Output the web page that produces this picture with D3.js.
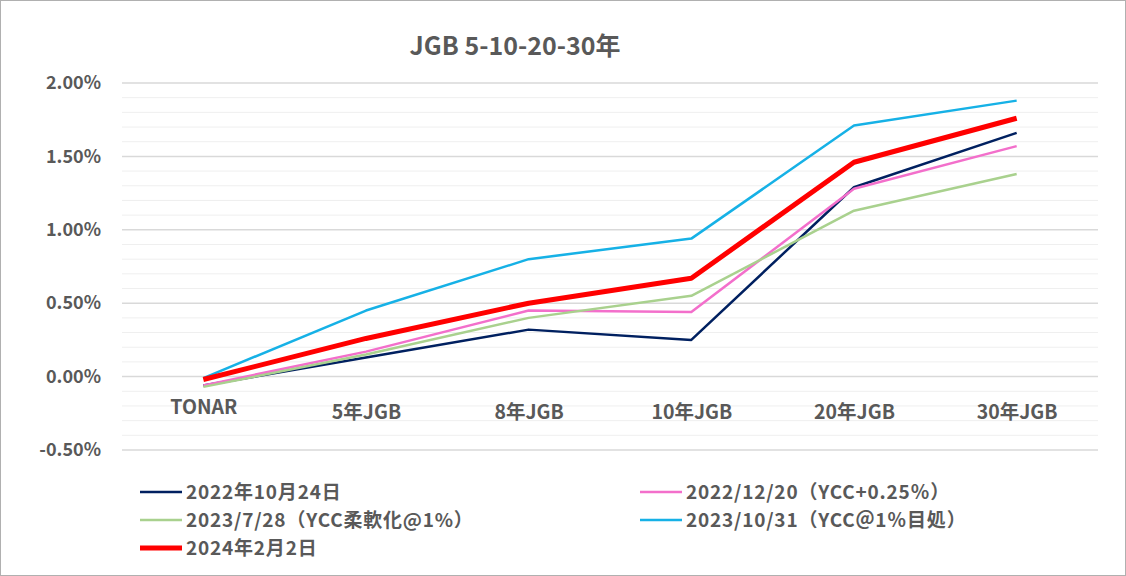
<!DOCTYPE html>
<html><head><meta charset="utf-8">
<script src="https://cdn.jsdelivr.net/npm/d3@7"></script>
<style>
html,body{margin:0;padding:0;background:#fff;}
svg{display:block;font-family:"Noto Sans CJK JP","Noto Sans",sans-serif;}
</style></head>
<body><svg id="c" width="1126" height="576"></svg>
<script>
const title = "JGB 5-10-20-30年";
const categories = ["TONAR","5年JGB","8年JGB","10年JGB","20年JGB","30年JGB"];
const yTicks = [-0.5, 0, 0.5, 1.0, 1.5, 2.0];
const seriesNames = ["2022年10月24日","2022/12/20（YCC+0.25％）","2023/7/28（YCC柔軟化@1%）","2023/10/31（YCC＠1％目処）","2024年2月2日"];
const s20221024 = [-0.06, 0.13, 0.32, 0.25, 1.29, 1.66];
const s20221220 = [-0.06, 0.17, 0.45, 0.44, 1.28, 1.57];
const s20230728 = [-0.07, 0.15, 0.40, 0.55, 1.13, 1.38];
const s20231031 = [-0.01, 0.45, 0.80, 0.94, 1.71, 1.88];
const s20240202 = [-0.02, 0.26, 0.50, 0.67, 1.46, 1.76];
const seriesValues = [s20221024, s20221220, s20230728, s20231031, s20240202];
const colors = ["#002060","#F36FCB","#A9D18E","#16B1E6","#FF0000"];
const widths = [2.5, 2.5, 2.5, 2.5, 5];

const FONT = '"Noto Sans CJK JP","Noto Sans",sans-serif';
const svg = d3.select("#c");
svg.append("rect").attr("x",0.5).attr("y",0.5).attr("width",1125).attr("height",575)
  .attr("fill","#fff").attr("stroke","#b0b0b0");

const x = d3.scalePoint().domain(categories).range([122,1098]).padding(0.5);
const y = d3.scaleLinear().domain([-0.5,2.0]).range([450,83]);

// minor gridlines
const minor = d3.range(-5,21).map(i=>i/10).filter(v=>Math.abs(v*2-Math.round(v*2))>1e-6);
svg.append("g").selectAll("line").data(minor).join("line")
  .attr("x1",122).attr("x2",1098).attr("y1",d=>y(d)).attr("y2",d=>y(d))
  .attr("stroke","#efefef").attr("stroke-width",1);
svg.append("g").selectAll("line").data(yTicks).join("line")
  .attr("x1",122).attr("x2",1098).attr("y1",d=>y(d)).attr("y2",d=>y(d))
  .attr("stroke","#d9d9d9").attr("stroke-width",1.5);

// y axis labels
const yAxis = d3.axisLeft(y).tickValues(yTicks).tickSize(0).tickPadding(0)
  .tickFormat(d=>(d<0?"-":"")+Math.abs(d).toFixed(2)+"%");
const ga = svg.append("g").attr("transform","translate(101,0)").call(yAxis);
ga.select(".domain").remove();
ga.selectAll("text").attr("fill","#595959").attr("font-size",18).attr("font-weight","bold")
  .attr("font-family",FONT);

// category labels
const xAxis = d3.axisBottom(x).tickSize(0).tickPadding(0);
const gx = svg.append("g").call(xAxis);
gx.select(".domain").remove();
gx.selectAll("text").attr("fill","#595959").attr("font-size",19.5).attr("font-weight","bold")
  .attr("font-family",FONT)
  .attr("dy",null)
  .attr("y",(d)=> d==="TONAR" ? 414 : 419);

// lines
const line = d3.line().x((d,i)=>x(categories[i])).y(d=>y(d));
svg.append("g").selectAll("path").data(seriesValues).join("path")
  .attr("d",line).attr("fill","none")
  .attr("stroke",(d,i)=>colors[i]).attr("stroke-width",(d,i)=>widths[i])
  .attr("stroke-linejoin","round");

// title
svg.append("text").attr("x",515).attr("y",55).attr("text-anchor","middle")
  .attr("fill","#595959").attr("font-size",25).attr("font-weight","bold").text(title);

// legend
const legPos = [[140,492],[640,492],[140,520],[640,520],[140,548]];
const lg = svg.append("g").selectAll("g").data(seriesNames).join("g")
  .attr("transform",(d,i)=>`translate(${legPos[i][0]},${legPos[i][1]})`);
lg.append("line").attr("x1",0).attr("x2",42).attr("y1",0).attr("y2",0)
  .attr("stroke",(d,i)=>colors[i]).attr("stroke-width",(d,i)=>widths[i]);
lg.append("text").attr("x",46).attr("y",7).attr("fill","#595959")
  .attr("font-size",19).attr("letter-spacing",0.8).attr("font-weight","bold").text(d=>d);
</script></body></html>
